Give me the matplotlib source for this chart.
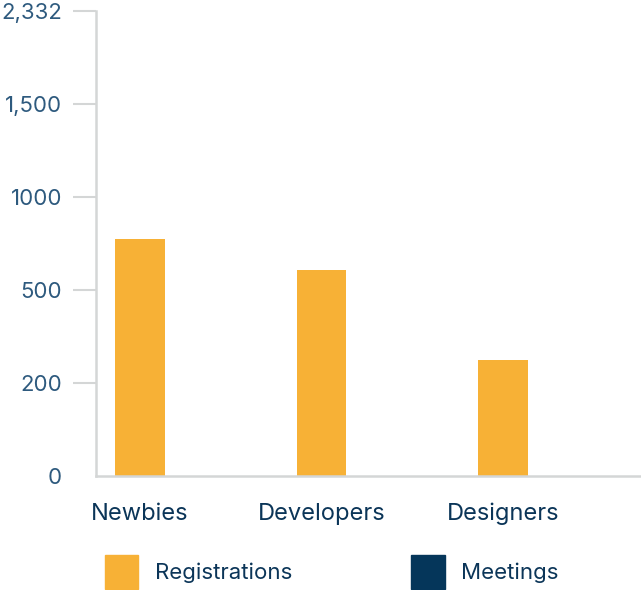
import numpy as np
import matplotlib.pyplot as plt
from matplotlib.patches import Patch

# data
categories = ["Newbies", "Developers", "Designers"]
registrations = [775, 610, 275]
meetings = [0, 0, 0]
y_ticks = [0, 200, 500, 1000, 1500, 2332]
y_labels = ["0", "200", "500", "1000", "1,500", "2,332"]

orange = "#F7B136"
navy = "#05365A"
text_col = "#0B3558"
tick_col = "#2E5A7E"
grid_col = "#D4D6D6"

plt.rcParams['font.family'] = ['Inter', 'DejaVu Sans']

# the y axis puts its ticks at even spacing, piecewise linear between them
idx = np.arange(len(y_ticks), dtype=float)
def fwd(v):
    return np.interp(v, y_ticks, idx)
def inv(p):
    return np.interp(p, idx, y_ticks)

fig = plt.figure(figsize=(6.41, 5.90), dpi=100)
ax = fig.add_axes([0.1498, 0.193, 0.8502, 0.788])
ax.set_yscale('function', functions=(fwd, inv))

x = np.arange(len(categories))
w = 0.275
ax.bar(x, registrations, width=w, color=orange, zorder=2)
ax.bar(x + w, meetings, width=w, color=navy, zorder=2)

ax.set_xlim(-0.242, 2.76)
ax.set_ylim(0, 2332)

ax.set_yticks(y_ticks)
ax.set_yticklabels(y_labels)
ax.yaxis.set_minor_locator(plt.NullLocator())
ax.tick_params(axis='y', length=16.5, width=1.5, color=grid_col, pad=8,
               labelsize=16, labelcolor=tick_col)
ax.yaxis.get_major_ticks()[0].tick1line.set_visible(False)

ax.set_xticks(x)
ax.set_xticklabels(categories)
ax.tick_params(axis='x', length=0, pad=19, labelsize=17, labelcolor=text_col)

for s in ['top', 'right']:
    ax.spines[s].set_visible(False)
for s in ['left', 'bottom']:
    ax.spines[s].set_color(grid_col)
    ax.spines[s].set_linewidth(1.8)

handles = [Patch(color=orange, label="Registrations"),
           Patch(color=navy, label="Meetings")]
leg = fig.legend(handles=handles, loc='lower left', bbox_to_anchor=(0.164, 0.002),
                 ncol=2, frameon=False, fontsize=16, borderpad=0, borderaxespad=0,
                 handlelength=1.5, handleheight=1.95, handletextpad=0.75,
                 columnspacing=5.35)
for t in leg.get_texts():
    t.set_color(text_col)

plt.savefig("out.png", dpi=100)
